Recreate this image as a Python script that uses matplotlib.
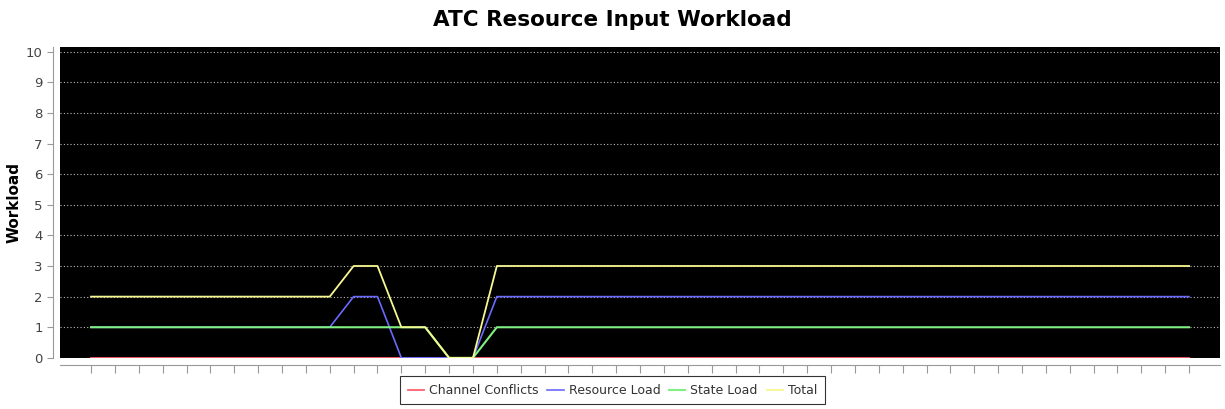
import matplotlib
matplotlib.use('Agg')
import matplotlib.pyplot as plt

steps = list(range(47))
channel_conflicts = [0] * 47
resource_load = [1] * 10 + [1, 2, 2, 0, 0, 0, 0] + [2] * 30
state_load = [1] * 10 + [1, 1, 1, 1, 1, 0, 0] + [1] * 30
total = [2] * 10 + [2, 3, 3, 1, 1, 0, 0] + [3] * 30

series_names = ['Channel Conflicts', 'Resource Load', 'State Load', 'Total']
series_colors = ['#ff6070', '#6a6aff', '#80f080', '#f8f890']
series_widths = [1.3, 1.2, 1.5, 1.3]

fig = plt.figure(figsize=(12.25, 4.09), dpi=100)
ax = fig.add_axes([0.049, 0.125, 0.947, 0.76])
ax.set_facecolor('black')

for vals, name, col, w in zip([channel_conflicts, resource_load, state_load, total],
                              series_names, series_colors, series_widths):
    ax.plot(steps, vals, color=col, lw=w, label=name)

ax.set_xlim(-1.3, 47.3)
ax.set_ylim(0, 10.15)
ax.set_yticks(range(11))
ax.set_xticks(steps)
ax.set_xticklabels([])
ax.yaxis.grid(True, color='#bbbbbb', linestyle=(0, (1, 2)), lw=0.8)
ax.set_axisbelow(True)

for s in ['top', 'right']:
    ax.spines[s].set_visible(False)
for s in ['left', 'bottom']:
    ax.spines[s].set_position(('outward', 5))
    ax.spines[s].set_color('#999999')
ax.tick_params(axis='y', colors='#999999', labelcolor='#444444', labelsize=9.5, length=4)
ax.tick_params(axis='x', colors='#999999', length=6)

ax.set_ylabel('Workload', fontsize=11, fontweight='bold', labelpad=3)
fig.suptitle('ATC Resource Input Workload', fontsize=15.5, fontweight='bold', y=0.975)

leg = fig.legend(loc='lower center', bbox_to_anchor=(0.5, -0.004), ncol=4, fontsize=9,
                 handlelength=1.3, handletextpad=0.4, columnspacing=0.7,
                 fancybox=False, edgecolor='black', borderpad=0.6)
leg.get_frame().set_linewidth(0.8)
for t in leg.get_texts():
    t.set_color('#333333')

fig.savefig('out.png', dpi=100)
